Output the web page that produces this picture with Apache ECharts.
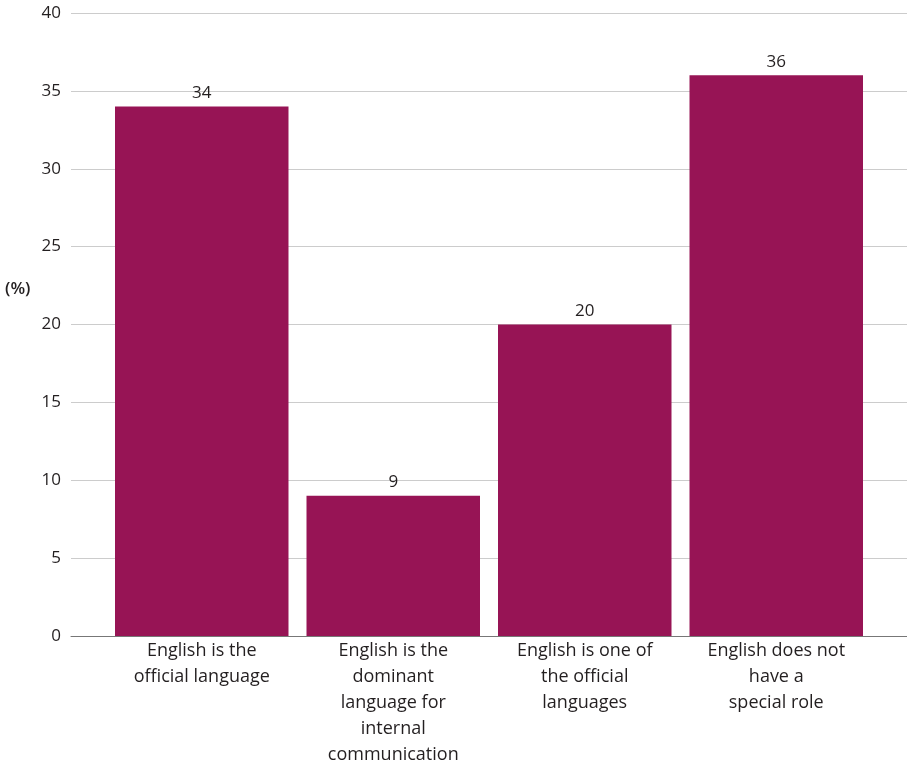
<!DOCTYPE html>
<html><head><meta charset="utf-8">
<script src="https://cdn.jsdelivr.net/npm/echarts@6/dist/echarts.min.js"></script>
<style>html,body{margin:0;padding:0;background:#fff}#c{width:907px;height:764px}</style>
</head><body><div id="c"></div>
<script>
const categories = [
  "English is the\nofficial language",
  "English is the\ndominant\nlanguage for\ninternal\ncommunication",
  "English is one of\nthe official\nlanguages",
  "English does not\nhave a\nspecial role"
];
const values = [34, 9, 20, 36];
const yMin = 0, yMax = 40, yStep = 5;
const FONT = "Open Sans";
const chart = echarts.init(document.getElementById('c'), null, {renderer: 'canvas'});
chart.setOption({
  animation: false,
  backgroundColor: '#fff',
  textStyle: {fontFamily: FONT},
  grid: [
    {left: 71, right: 0, top: 13, bottom: 128, containLabel: false, outerBoundsMode: 'none'},
    {left: 106, right: 35, top: 13, bottom: 128, containLabel: false, outerBoundsMode: 'none'}
  ],
  xAxis: [
    {type: 'value', gridIndex: 0, min: 0, max: 1, axisLabel: {show: false}, axisTick: {show: false}, splitLine: {show: false},
     axisLine: {show: true, lineStyle: {color: '#777', width: 1}}},
    {type: 'category', gridIndex: 1, data: categories, axisLine: {show: false}, axisTick: {show: false},
     axisLabel: {interval: 0, margin: 2, fontFamily: FONT, fontSize: 18, color: '#231f20', lineHeight: 26, align: 'center'}}
  ],
  yAxis: [
    {type: 'value', gridIndex: 0, min: yMin, max: yMax, interval: yStep,
     axisLine: {show: false}, axisTick: {show: false},
     axisLabel: {margin: 10, fontFamily: FONT, fontSize: 17, color: '#231f20'},
     splitLine: {show: true, lineStyle: {color: '#cccccc', width: 1}}},
    {type: 'value', gridIndex: 1, min: yMin, max: yMax, interval: yStep, show: false, splitLine: {show: false}}
  ],
  graphic: [{type: 'text', left: 5, top: 281, style: {text: '(%)', fontFamily: FONT, fontSize: 17, fontWeight: 600, fill: '#231f20'}}],
  series: [{
    type: 'bar', xAxisIndex: 1, yAxisIndex: 1, data: values, barCategoryGap: '9.4%',
    itemStyle: {color: '#971455'},
    label: {show: true, position: 'top', distance: 5, fontFamily: FONT, fontSize: 17, color: '#231f20'}
  }]
});
</script></body></html>
